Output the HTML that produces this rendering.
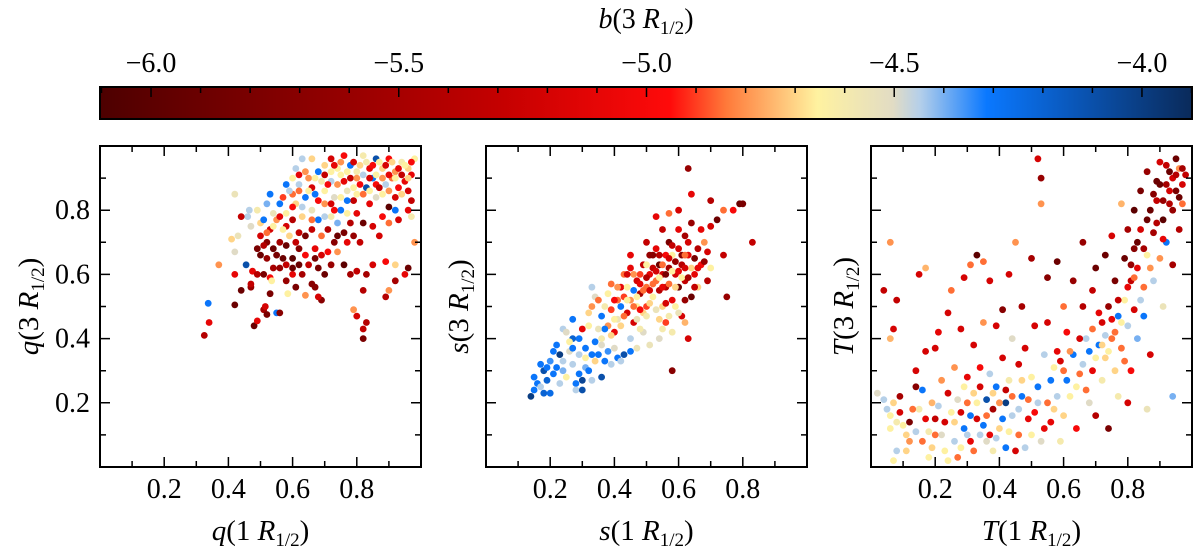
<!DOCTYPE html>
<html><head><meta charset="utf-8"><style>
html,body{margin:0;padding:0;background:#fff;}
svg{display:block;font-family:"Liberation Serif","DejaVu Serif",serif;}
text{font-family:"Liberation Serif","DejaVu Serif",serif;}
</style></head><body>
<svg id="fig" width="1200" height="557" viewBox="0 0 1200 557" xmlns="http://www.w3.org/2000/svg" font-family="Liberation Serif, serif">
<defs>
<linearGradient id="cmap" x1="0" x2="1" y1="0" y2="0">
<stop offset="0" stop-color="#4d0000"/>
<stop offset="0.366" stop-color="#c40000"/>
<stop offset="0.522" stop-color="#ff0a0a"/>
<stop offset="0.574" stop-color="#ff7a3a"/>
<stop offset="0.657" stop-color="#fff2a0"/>
<stop offset="0.726" stop-color="#e2dcc4"/>
<stop offset="0.751" stop-color="#b4cfea"/>
<stop offset="0.812" stop-color="#0a78ff"/>
<stop offset="1" stop-color="#0a2a5a"/>
</linearGradient>
</defs>
<g id="layer"></g>
</svg>
<script>
const cbTicks = [-6.0, -5.5, -5.0, -4.5, -4.0];
const cbTickLabels = ["\u22126.0","\u22125.5","\u22125.0","\u22124.5","\u22124.0"];
const axTicks = [0.2, 0.4, 0.6, 0.8];
const axTickLabels = ["0.2","0.4","0.6","0.8"];
const yTicks = [0.2, 0.4, 0.6, 0.8];
const yTickLabels = ["0.2","0.4","0.6","0.8"];
const bMin = -6.103, bMax = -3.899;

const qPoints = [[0.325,0.41,-5.4],[0.34,0.45,-5.1],[0.337,0.51,-4.3],[0.37,0.63,-4.8],[0.42,0.505,-5.9],[0.44,0.55,-5.9],[0.48,0.44,-5.9],[0.49,0.455,-5.1],[0.42,0.6,-5.1],[0.42,0.67,-4.5],[0.41,0.71,-4.7],[0.43,0.72,-4.55],[0.42,0.85,-4.55],[0.455,0.63,-4.1],[0.475,0.61,-5.1],[0.47,0.56,-5.6],[0.47,0.57,-5.3],[0.51,0.49,-5.5],[0.515,0.5,-5.2],[0.52,0.475,-5.8],[0.55,0.48,-4.3],[0.56,0.48,-5.7],[0.53,0.59,-5.0],[0.535,0.58,-4.65],[0.585,0.54,-4.65],[0.64,0.535,-4.8],[0.66,0.57,-5.7],[0.6,0.6,-5.1],[0.63,0.6,-5.5],[0.62,0.63,-5.9],[0.55,0.66,-5.8],[0.57,0.65,-5.9],[0.6,0.65,-6.0],[0.58,0.69,-5.9],[0.56,0.7,-5.5],[0.52,0.7,-5.7],[0.5,0.72,-5.2],[0.5,0.66,-5.9],[0.52,0.65,-5.6],[0.49,0.68,-5.8],[0.47,0.75,-4.5],[0.46,0.78,-4.45],[0.44,0.78,-5.3],[0.465,0.8,-4.45],[0.5,0.76,-4.7],[0.51,0.77,-4.3],[0.49,0.8,-4.6],[0.53,0.74,-5.2],[0.55,0.77,-4.8],[0.56,0.82,-4.3],[0.54,0.79,-4.55],[0.58,0.75,-5.2],[0.6,0.77,-5.4],[0.62,0.73,-5.3],[0.64,0.72,-5.8],[0.66,0.74,-5.3],[0.68,0.62,-5.8],[0.7,0.6,-5.9],[0.71,0.67,-5.0],[0.74,0.67,-4.8],[0.76,0.63,-6.0],[0.78,0.6,-5.5],[0.8,0.61,-5.3],[0.83,0.6,-5.5],[0.85,0.63,-5.2],[0.89,0.64,-5.0],[0.92,0.63,-4.7],[0.95,0.6,-5.1],[0.92,0.58,-5.5],[0.82,0.55,-5.4],[0.89,0.53,-5.4],[0.9,0.55,-4.8],[0.67,0.56,-5.7],[0.69,0.52,-5.7],[0.68,0.53,-5.2],[0.79,0.49,-4.8],[0.8,0.47,-5.2],[0.82,0.43,-5.3],[0.83,0.45,-5.4],[0.82,0.40,-5.8],[0.96,0.62,-5.9],[0.98,0.7,-4.8],[0.97,0.78,-4.6],[0.97,0.83,-5.3],[0.96,0.86,-5.2],[0.73,0.7,-5.7],[0.76,0.73,-5.8],[0.78,0.76,-5.4],[0.72,0.78,-4.6],[0.75,0.8,-4.3],[0.82,0.76,-5.9],[0.85,0.75,-5.2],[0.87,0.72,-5.2],[0.88,0.78,-5.0],[0.9,0.81,-6.0],[0.92,0.8,-4.3],[0.86,0.84,-4.5],[0.83,0.87,-4.1],[0.8,0.85,-4.65],[0.78,0.9,-5.3],[0.74,0.88,-4.8],[0.7,0.86,-4.65],[0.68,0.83,-5.0],[0.66,0.8,-4.55],[0.64,0.84,-4.3],[0.62,0.88,-4.45],[0.61,0.82,-4.7],[0.63,0.78,-4.7],[0.6,0.85,-4.85],[0.65,0.9,-4.8],[0.68,0.92,-4.3],[0.7,0.94,-4.7],[0.72,0.96,-5.2],[0.74,0.93,-4.65],[0.76,0.97,-5.0],[0.78,0.94,-4.3],[0.8,0.92,-4.6],[0.82,0.97,-4.6],[0.84,0.93,-5.1],[0.86,0.96,-4.1],[0.88,0.93,-4.7],[0.9,0.96,-5.0],[0.92,0.92,-4.8],[0.94,0.95,-4.6],[0.96,0.93,-4.7],[0.98,0.96,-4.65],[0.95,0.89,-5.1],[0.93,0.87,-5.0],[0.89,0.88,-4.45],[0.85,0.9,-4.3],[0.81,0.88,-5.0],[0.77,0.86,-4.55],[0.73,0.84,-4.5],[0.69,0.89,-4.6],[0.66,0.87,-5.2],[0.58,0.88,-4.3],[0.61,0.93,-4.45],[0.57,0.84,-4.9],[0.53,0.85,-4.3],[0.52,0.82,-4.4],[0.63,0.96,-4.45],[0.66,0.96,-4.7],[0.7,0.91,-5.3],[0.75,0.91,-4.65],[0.79,0.83,-5.3],[0.84,0.82,-5.1],[0.88,0.85,-4.65],[0.91,0.9,-4.85],[0.97,0.91,-5.1],[0.86,0.88,-5.0],[0.74,0.76,-4.4],[0.71,0.74,-5.4],[0.69,0.72,-4.85],[0.67,0.68,-5.1],[0.64,0.66,-5.0],[0.61,0.7,-5.3],[0.59,0.72,-4.7],[0.57,0.74,-4.65],
[0.72,0.92,-4.65],[0.73,0.94,-5.1],[0.75,0.95,-4.8],[0.77,0.92,-4.65],[0.79,0.95,-5.2],[0.81,0.94,-4.7],[0.83,0.95,-4.6],[0.85,0.94,-5.0],[0.87,0.95,-4.65],[0.89,0.94,-5.2],[0.91,0.95,-4.7],[0.93,0.93,-5.1],[0.95,0.94,-4.65],[0.97,0.95,-5.0],[0.96,0.9,-4.7],[0.94,0.91,-5.3],[0.92,0.9,-4.65],[0.9,0.91,-5.1],[0.88,0.9,-4.8],[0.86,0.91,-4.65],[0.84,0.9,-5.2],[0.82,0.91,-4.45],[0.8,0.9,-4.8],[0.76,0.89,-5.1],[0.72,0.89,-4.45],[0.71,0.88,-5.0],[0.67,0.9,-4.65],[0.64,0.92,-4.8],[0.62,0.91,-5.1],[0.6,0.9,-4.65],[0.59,0.86,-4.45],[0.62,0.86,-4.85],[0.65,0.86,-4.65],[0.67,0.85,-4.3],[0.7,0.82,-4.8],[0.72,0.82,-5.2],[0.75,0.84,-4.65],[0.77,0.83,-4.3],[0.79,0.87,-4.65],[0.82,0.85,-4.85],[0.84,0.86,-4.65],[0.87,0.87,-5.3],[0.9,0.86,-4.8],[0.92,0.84,-5.2],[0.94,0.85,-4.7],[0.96,0.8,-5.1],[0.93,0.77,-5.2],[0.9,0.76,-4.85],[0.8,0.79,-5.1],[0.77,0.79,-4.65],[0.73,0.8,-5.0],[0.7,0.78,-4.45],[0.68,0.77,-4.3],[0.66,0.77,-4.85],[0.63,0.81,-4.45],[0.6,0.81,-5.0],[0.58,0.79,-4.65],[0.56,0.78,-5.1],[0.54,0.75,-4.65],[0.52,0.73,-4.85],[0.51,0.69,-5.4],[0.54,0.68,-5.9],[0.56,0.62,-5.6],[0.58,0.63,-5.3],[0.6,0.62,-5.9],[0.62,0.68,-5.7],[0.65,0.63,-5.3],[0.67,0.65,-5.8],[0.69,0.66,-5.2],[0.72,0.63,-5.6],[0.74,0.72,-5.9],[0.77,0.7,-5.1],[0.79,0.72,-5.6],[0.81,0.7,-5.3],[0.54,0.62,-5.5],[0.51,0.6,-5.8],[0.49,0.6,-5.4],[0.53,0.54,-5.8],[0.58,0.58,-5.6],[0.61,0.56,-5.8]];

const sPoints = [[0.14,0.22,-4.0],[0.15,0.24,-4.3],[0.16,0.26,-4.3],[0.15,0.28,-4.3],[0.17,0.25,-4.45],[0.18,0.3,-4.1],[0.19,0.31,-4.3],[0.17,0.32,-4.3],[0.18,0.23,-4.2],[0.2,0.23,-4.25],[0.21,0.29,-4.3],[0.2,0.33,-4.35],[0.21,0.36,-4.3],[0.22,0.38,-4.3],[0.23,0.35,-4.0],[0.24,0.33,-4.45],[0.24,0.3,-4.4],[0.25,0.28,-4.65],[0.26,0.36,-4.5],[0.27,0.32,-4.45],[0.28,0.26,-4.3],[0.28,0.24,-4.45],[0.29,0.29,-4.3],[0.3,0.27,-4.05],[0.3,0.24,-4.1],[0.31,0.31,-4.4],[0.31,0.37,-4.3],[0.32,0.3,-4.3],[0.33,0.27,-4.45],[0.34,0.33,-4.7],[0.34,0.39,-4.3],[0.35,0.35,-4.3],[0.36,0.28,-4.1],[0.37,0.33,-4.3],[0.38,0.36,-4.35],[0.39,0.32,-4.45],[0.4,0.37,-4.5],[0.41,0.34,-4.3],[0.42,0.33,-4.45],[0.43,0.35,-4.1],[0.45,0.36,-4.3],[0.45,0.4,-4.45],[0.47,0.37,-4.55],[0.49,0.42,-4.5],[0.51,0.38,-4.55],[0.54,0.4,-4.5],[0.55,0.43,-4.6],[0.58,0.42,-4.6],[0.58,0.3,-5.7],[0.62,0.45,-4.75],[0.63,0.4,-5.2],[0.61,0.47,-5.2],[0.24,0.43,-4.45],[0.25,0.42,-4.5],[0.27,0.46,-4.3],[0.29,0.4,-4.3],[0.3,0.43,-5.1],[0.32,0.44,-4.65],[0.32,0.48,-4.7],[0.33,0.5,-4.8],[0.34,0.53,-4.5],[0.33,0.56,-4.45],[0.35,0.52,-4.85],[0.36,0.47,-4.3],[0.37,0.5,-4.6],[0.38,0.44,-4.8],[0.38,0.54,-4.65],[0.39,0.49,-4.9],[0.39,0.57,-4.85],[0.4,0.42,-5.1],[0.41,0.46,-4.55],[0.41,0.52,-4.85],[0.42,0.5,-4.3],[0.42,0.56,-5.1],[0.43,0.53,-4.9],[0.43,0.6,-4.85],[0.44,0.48,-5.2],[0.44,0.56,-4.65],[0.45,0.62,-5.1],[0.45,0.52,-4.8],[0.46,0.55,-4.3],[0.46,0.45,-5.2],[0.47,0.58,-5.2],[0.47,0.5,-4.65],[0.48,0.6,-4.9],[0.48,0.54,-5.5],[0.49,0.48,-4.7],[0.49,0.63,-5.3],[0.5,0.56,-4.85],[0.5,0.5,-4.9],[0.51,0.6,-5.1],[0.51,0.66,-5.6],[0.52,0.53,-4.65],[0.52,0.62,-5.3],[0.53,0.58,-4.85],[0.53,0.68,-5.1],[0.54,0.63,-5.9],[0.54,0.55,-5.4],[0.55,0.5,-4.7],[0.55,0.6,-5.2],[0.56,0.66,-5.0],[0.56,0.56,-5.4],[0.57,0.62,-5.5],[0.57,0.7,-5.8],[0.58,0.52,-5.1],[0.58,0.66,-4.65],[0.59,0.6,-5.2],[0.6,0.56,-5.9],[0.6,0.68,-5.2],[0.61,0.63,-5.4],[0.62,0.58,-5.3],[0.62,0.72,-5.5],[0.63,0.66,-5.1],[0.64,0.62,-4.7],[0.64,0.53,-5.9],[0.65,0.6,-5.1],[0.66,0.68,-5.4],[0.66,0.56,-4.7],[0.67,0.63,-5.0],[0.68,0.7,-4.8],[0.69,0.58,-5.4],[0.7,0.62,-4.65],[0.7,0.75,-5.2],[0.72,0.77,-5.9],[0.74,0.66,-5.3],[0.67,0.74,-5.1],[0.64,0.76,-5.6],[0.6,0.74,-5.1],[0.55,0.74,-5.3],[0.5,0.7,-5.3],[0.56,0.45,-4.9],[0.45,0.66,-5.1],[0.79,0.82,-5.9],[0.8,0.82,-5.8],[0.77,0.8,-5.0],[0.83,0.7,-5.3],[0.74,0.8,-4.85],[0.7,0.83,-5.4],[0.64,0.85,-5.1],[0.63,0.93,-5.6],[0.6,0.8,-5.2],[0.57,0.79,-4.85],[0.53,0.78,-5.1],[0.75,0.53,-5.6],[0.48,0.43,-4.6],[0.36,0.4,-4.6],[0.27,0.4,-4.2],
[0.46,0.6,-4.8],[0.47,0.53,-4.65],[0.48,0.57,-5.1],[0.49,0.55,-4.85],[0.5,0.59,-5.4],[0.5,0.63,-4.65],[0.51,0.55,-5.2],[0.52,0.57,-4.85],[0.52,0.66,-5.7],[0.53,0.61,-5.2],[0.54,0.59,-4.65],[0.54,0.66,-5.4],[0.55,0.63,-4.85],[0.55,0.56,-5.1],[0.56,0.6,-5.8],[0.57,0.57,-4.85],[0.57,0.65,-5.2],[0.58,0.61,-4.65],[0.58,0.69,-5.3],[0.59,0.64,-5.6],[0.59,0.56,-4.7],[0.6,0.61,-5.1],[0.61,0.59,-4.65],[0.61,0.66,-5.7],[0.62,0.62,-5.2],[0.62,0.66,-4.85],[0.63,0.59,-5.5],[0.63,0.7,-5.2],[0.65,0.65,-5.8],[0.65,0.56,-5.3],[0.66,0.62,-5.1],[0.68,0.64,-5.6],[0.69,0.67,-5.2],[0.44,0.52,-4.65],[0.43,0.47,-4.85],[0.42,0.44,-4.7],[0.4,0.46,-4.65],[0.4,0.52,-5.0],[0.41,0.56,-4.8],[0.44,0.6,-5.2],[0.46,0.5,-4.85],[0.47,0.46,-4.55],[0.48,0.49,-5.0],[0.5,0.47,-4.6],[0.51,0.51,-4.7],[0.53,0.49,-4.55],[0.54,0.46,-4.7],[0.56,0.51,-5.2],[0.57,0.47,-4.6],[0.59,0.5,-4.65],[0.6,0.48,-4.55],[0.62,0.52,-5.6],[0.39,0.41,-4.7],[0.37,0.43,-4.3],[0.35,0.43,-4.55],[0.36,0.38,-4.5],[0.33,0.35,-4.3],[0.31,0.34,-4.65],[0.29,0.35,-4.45],[0.27,0.37,-4.3],[0.26,0.39,-4.65],[0.22,0.31,-4.3],[0.19,0.27,-4.2],[0.23,0.26,-4.45]];

const tPoints = [[0.04,0.55,-5.3],[0.06,0.4,-4.75],[0.06,0.7,-4.8],[0.07,0.43,-5.2],[0.08,0.52,-5.3],[0.02,0.23,-4.5],[0.04,0.21,-4.45],[0.05,0.18,-4.45],[0.06,0.16,-4.65],[0.06,0.12,-4.65],[0.07,0.2,-4.7],[0.08,0.14,-4.6],[0.08,0.05,-4.45],[0.07,0.02,-4.65],[0.09,0.17,-5.2],[0.09,0.22,-5.5],[0.11,0.1,-4.7],[0.12,0.14,-5.8],[0.12,0.08,-4.8],[0.14,0.25,-5.7],[0.14,0.3,-5.2],[0.15,0.18,-4.6],[0.15,0.6,-5.2],[0.16,0.24,-4.3],[0.16,0.08,-4.85],[0.17,0.36,-5.2],[0.17,0.62,-4.75],[0.18,0.11,-4.6],[0.19,0.2,-4.75],[0.19,0.06,-4.7],[0.2,0.37,-5.2],[0.2,0.15,-5.3],[0.21,0.42,-5.1],[0.22,0.1,-4.5],[0.22,0.27,-4.8],[0.23,0.05,-4.65],[0.24,0.23,-5.2],[0.24,0.48,-5.2],[0.25,0.17,-4.65],[0.25,0.55,-4.85],[0.26,0.08,-4.45],[0.26,0.31,-4.8],[0.27,0.21,-4.5],[0.28,0.06,-4.65],[0.28,0.43,-5.2],[0.29,0.12,-4.3],[0.29,0.59,-5.2],[0.3,0.28,-5.1],[0.3,0.2,-4.85],[0.31,0.08,-5.1],[0.31,0.63,-4.85],[0.32,0.38,-5.2],[0.32,0.23,-4.7],[0.33,0.66,-6.0],[0.33,0.15,-5.2],[0.34,0.31,-5.0],[0.34,0.1,-4.45],[0.35,0.45,-4.8],[0.35,0.64,-4.85],[0.36,0.21,-4.1],[0.36,0.08,-4.5],[0.37,0.58,-5.2],[0.37,0.29,-4.45],[0.38,0.18,-5.5],[0.38,0.05,-4.6],[0.39,0.44,-5.2],[0.39,0.25,-4.3],[0.4,0.12,-4.7],[0.41,0.49,-5.7],[0.41,0.34,-5.2],[0.42,0.2,-4.0],[0.42,0.06,-4.3],[0.43,0.6,-5.2],[0.43,0.27,-4.6],[0.44,0.16,-4.45],[0.44,0.4,-4.5],[0.45,0.7,-4.8],[0.46,0.32,-5.2],[0.46,0.1,-4.85],[0.47,0.22,-4.3],[0.47,0.5,-5.5],[0.48,0.06,-4.45],[0.48,0.37,-5.2],[0.49,0.15,-5.1],[0.5,0.65,-5.5],[0.5,0.28,-4.65],[0.51,0.44,-5.2],[0.52,0.2,-4.45],[0.52,0.96,-5.2],[0.53,0.9,-5.6],[0.53,0.82,-4.8],[0.54,0.12,-5.1],[0.54,0.35,-4.45],[0.55,0.59,-5.7],[0.55,0.45,-5.2],[0.56,0.27,-4.3],[0.57,0.18,-4.7],[0.58,0.64,-5.9],[0.58,0.36,-5.1],[0.59,0.08,-4.6],[0.6,0.3,-4.85],[0.6,0.5,-4.85],[0.61,0.42,-5.0],[0.62,0.22,-4.65],[0.63,0.58,-5.6],[0.63,0.35,-4.3],[0.64,0.12,-5.0],[0.65,0.29,-4.85],[0.66,0.5,-5.4],[0.66,0.7,-5.6],[0.67,0.4,-4.45],[0.68,0.2,-4.5],[0.69,0.3,-5.1],[0.69,0.55,-5.3],[0.7,0.62,-5.9],[0.7,0.16,-5.4],[0.71,0.38,-4.3],[0.72,0.45,-5.2],[0.72,0.27,-4.6],[0.73,0.66,-5.9],[0.73,0.34,-4.7],[0.74,0.5,-5.6],[0.74,0.12,-5.8],[0.75,0.72,-5.2],[0.75,0.4,-4.85],[0.76,0.3,-4.7],[0.76,0.58,-5.8],[0.77,0.47,-4.3],[0.77,0.22,-4.6],[0.78,0.82,-4.75],[0.78,0.37,-4.85],[0.79,0.65,-5.9],[0.79,0.52,-4.65],[0.8,0.74,-5.5],[0.8,0.44,-4.45],[0.81,0.58,-5.3],[0.81,0.3,-5.0],[0.82,0.68,-5.7],[0.82,0.8,-6.0],[0.82,0.49,-5.2],[0.83,0.62,-5.1],[0.83,0.4,-4.4],[0.84,0.86,-5.8],[0.84,0.74,-5.2],[0.85,0.56,-4.85],[0.85,0.47,-4.3],[0.86,0.92,-5.6],[0.86,0.66,-4.65],[0.87,0.8,-5.9],[0.87,0.35,-5.2],[0.88,0.73,-5.5],[0.88,0.58,-4.45],[0.89,0.89,-5.9],[0.89,0.83,-5.3],[0.9,0.65,-4.8],[0.9,0.95,-5.2],[0.91,0.77,-6.0],[0.91,0.5,-4.55],[0.92,0.88,-5.5],[0.92,0.7,-4.3],[0.93,0.92,-5.9],[0.93,0.82,-5.4],[0.94,0.9,-5.2],[0.94,0.63,-5.5],[0.95,0.96,-5.9],[0.95,0.86,-5.8],[0.96,0.74,-5.4],[0.96,0.93,-4.8],[0.97,0.82,-4.85],[0.97,0.88,-5.2],[0.98,0.91,-5.3],[0.94,0.22,-4.4],[0.86,0.18,-4.55],[0.8,0.2,-5.2],
[0.1,0.13,-4.65],[0.11,0.05,-4.7],[0.13,0.18,-4.85],[0.14,0.11,-4.45],[0.17,0.15,-5.1],[0.18,0.03,-4.65],[0.2,0.1,-4.85],[0.21,0.19,-4.45],[0.23,0.14,-5.2],[0.24,0.02,-4.65],[0.26,0.14,-4.7],[0.27,0.03,-4.85],[0.28,0.17,-5.2],[0.29,0.25,-4.65],[0.3,0.1,-4.45],[0.31,0.16,-4.3],[0.32,0.05,-4.85],[0.33,0.2,-4.65],[0.34,0.25,-5.2],[0.35,0.13,-4.3],[0.36,0.16,-4.85],[0.37,0.1,-5.1],[0.38,0.23,-4.7],[0.39,0.09,-4.45],[0.4,0.2,-4.8],[0.41,0.15,-4.3],[0.42,0.24,-5.3],[0.43,0.11,-4.65],[0.44,0.22,-4.85],[0.45,0.05,-5.2],[0.46,0.18,-4.45],[0.47,0.27,-4.7],[0.49,0.21,-4.85],[0.5,0.1,-4.65],[0.51,0.17,-5.0],[0.52,0.25,-4.3],[0.53,0.08,-4.5],[0.55,0.2,-4.85],[0.56,0.14,-5.1],[0.57,0.31,-4.65],[0.58,0.22,-4.45],[0.59,0.33,-5.2],[0.6,0.16,-4.7],[0.61,0.27,-4.3],[0.62,0.36,-4.8],[0.64,0.25,-4.65],[0.65,0.4,-5.2],[0.66,0.32,-4.45],[0.67,0.24,-4.85],[0.68,0.36,-4.3],[0.69,0.43,-4.85],[0.7,0.34,-4.65],[0.71,0.48,-5.1],[0.72,0.38,-4.7],[0.73,0.41,-4.45],[0.74,0.36,-4.65],[0.75,0.46,-5.1],[0.76,0.42,-4.85],[0.77,0.52,-5.3],[0.78,0.45,-4.65],[0.79,0.33,-4.85],[0.8,0.56,-5.1],[0.81,0.63,-5.6],[0.82,0.59,-4.85],[0.83,0.7,-5.9],[0.84,0.52,-4.45],[0.85,0.68,-5.5],[0.86,0.77,-5.9],[0.87,0.62,-4.8],[0.88,0.85,-5.7],[0.89,0.76,-5.4],[0.9,0.88,-5.9],[0.91,0.83,-5.6],[0.92,0.94,-5.3],[0.93,0.86,-5.2],[0.94,0.8,-5.6],[0.95,0.91,-5.4],[0.96,0.84,-5.9],[0.97,0.93,-5.5],[0.91,0.71,-5.1]];

const NS = "http://www.w3.org/2000/svg";
const FONT = '"Liberation Serif", "DejaVu Serif", serif';
const layer = document.getElementById('layer');
function mk(tag, attrs, parent){ const e = document.createElementNS(NS, tag); for (const k in attrs) e.setAttribute(k, attrs[k]); if (tag==='text') e.setAttribute('font-family', FONT); (parent||layer).appendChild(e); return e; }

const stops = [[0,[0x4d,0,0]],[0.366,[0xc4,0,0]],[0.522,[0xff,0x0a,0x0a]],[0.574,[0xff,0x7a,0x3a]],[0.657,[0xff,0xf2,0xa0]],[0.726,[0xe2,0xdc,0xc4]],[0.751,[0xb4,0xcf,0xea]],[0.812,[0x0a,0x78,0xff]],[1,[0x0a,0x2a,0x5a]]];
function cmap(b){
  let t = (b - bMin)/(bMax - bMin); t = Math.max(0, Math.min(1, t));
  for (let i=1;i<stops.length;i++){ if (t<=stops[i][0]){ const a=stops[i-1], c=stops[i]; const f=(t-a[0])/(c[0]-a[0]); const r=a[1].map((v,j)=>Math.round(v+(c[1][j]-v)*f)); return `rgb(${r[0]},${r[1]},${r[2]})`; } }
  return 'rgb(10,42,90)';
}

const CB = {x0:100, x1:1192, y0:87, y1:119};
function cbX(b){ return CB.x0 + (b - bMin)/(bMax - bMin)*(CB.x1-CB.x0); }
const cbBar = mk('rect',{x:CB.x0,y:CB.y0,width:CB.x1-CB.x0,height:CB.y1-CB.y0,fill:'url(#cmap)',stroke:'#000','stroke-width':2});


for (let k=0; k<=22; k++){
  const v = -6.1 + k*0.1;
  const major = cbTicks.some(t=>Math.abs(t-v)<1e-6);
  const x = cbX(v);
  const tk = mk('line',{x1:x,x2:x,y1:CB.y0,y2:CB.y0+(major?10:6),stroke:'#000','stroke-width':1.5});
  
  
}
cbTicks.forEach((v,i)=>{
  const t = mk('text',{x:cbX(v),y:72,'font-size':28,'text-anchor':'middle'}); t.textContent = cbTickLabels[i];
  
  
});
const cbl = mk('text',{x:646,y:28,'font-size':28,'text-anchor':'middle'});
cbl.innerHTML = '<tspan font-style="italic">b</tspan>(3 <tspan font-style="italic">R</tspan><tspan font-size="19" dy="6">1/2</tspan><tspan dy="-6">)</tspan>';



function panel(x0, pts, v, name, yLabelsOn){
  const P = {x0:x0, x1:x0+321, y0:146, y1:467};
  const sx = d => P.x0 + d*(P.x1-P.x0);
  const sy = d => P.y1 - d*(P.y1-P.y0);
  const g = mk('g',{});
  
  
  pts.forEach(p=>{
    const c = mk('circle',{cx:sx(p[0]).toFixed(1),cy:sy(p[1]).toFixed(1),r:3.4,fill:cmap(p[2])},g);
    
    
  });
  const fr = mk('rect',{x:P.x0,y:P.y0,width:321,height:321,fill:'none',stroke:'#000','stroke-width':2},g);
  
  
  for (let k=1;k<10;k++){
    const d=k/10, major = (k%2===0), L = major?10:6;
    const a = mk('path',{d:`M${sx(d)},${P.y1}v${-L}M${sx(d)},${P.y0}v${L}M${P.x0},${sy(d)}h${L}M${P.x1},${sy(d)}h${-L}`,stroke:'#000','stroke-width':1.5,fill:'none'},g);
    
    
  }
  axTicks.forEach((d,i)=>{
    const t = mk('text',{x:sx(d),y:498,'font-size':28,'text-anchor':'middle'},g); t.textContent = axTickLabels[i];
    
    
  });
  if (yLabelsOn){
    yTicks.forEach((d,i)=>{
      const t = mk('text',{x:P.x0-10,y:sy(d)+9,'font-size':28,'text-anchor':'end'},g); t.textContent = yTickLabels[i];
      
      
    });
  }
  const xl = mk('text',{x:(P.x0+P.x1)/2,y:540,'font-size':29,'text-anchor':'middle'},g);
  xl.innerHTML = `<tspan font-style="italic">${v}</tspan>(1 <tspan font-style="italic">R</tspan><tspan font-size="19" dy="6">1/2</tspan><tspan dy="-6">)</tspan>`;
  
  
  const yx = yLabelsOn ? 38 : P.x0-18;
  const yl = mk('text',{x:yx,y:(P.y0+P.y1)/2,'font-size':29,'text-anchor':'middle',transform:`rotate(-90 ${yx} ${(P.y0+P.y1)/2})`},g);
  yl.innerHTML = `<tspan font-style="italic">${v}</tspan>(3 <tspan font-style="italic">R</tspan><tspan font-size="19" dy="6">1/2</tspan><tspan dy="-6">)</tspan>`;
  
  
}
panel(100, qPoints, 'q', 'q', true);
panel(486, sPoints, 's', 's', false);
panel(871, tPoints, 'T', 't', false);
</script>
</body></html>
